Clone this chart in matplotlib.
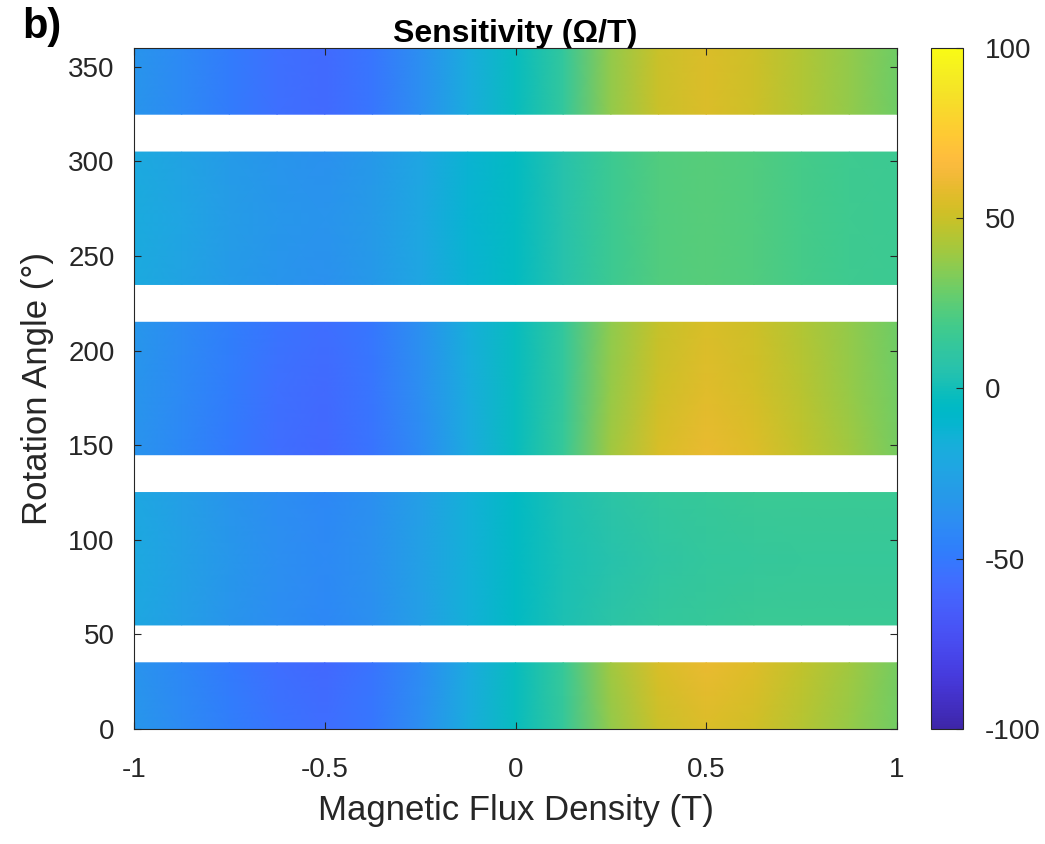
import numpy as np
import matplotlib
matplotlib.use("Agg")
import matplotlib.pyplot as plt
from matplotlib.colors import LinearSegmentedColormap

plt.rcParams["font.family"] = ["Liberation Sans", "DejaVu Sans"]
plt.rcParams["axes.unicode_minus"] = False

# MATLAB "parula" colormap (64 entries, smoothed to 256)
PARULA = [
    [0.2422, 0.1504, 0.6603], [0.2504, 0.1650, 0.7076], [0.2578, 0.1818, 0.7511],
    [0.2647, 0.1978, 0.7952], [0.2706, 0.2147, 0.8364], [0.2751, 0.2342, 0.8710],
    [0.2783, 0.2559, 0.8991], [0.2803, 0.2782, 0.9221], [0.2813, 0.3006, 0.9414],
    [0.2810, 0.3228, 0.9579], [0.2795, 0.3447, 0.9717], [0.2760, 0.3667, 0.9829],
    [0.2699, 0.3892, 0.9906], [0.2602, 0.4123, 0.9952], [0.2440, 0.4358, 0.9988],
    [0.2206, 0.4603, 0.9973], [0.1963, 0.4847, 0.9892], [0.1834, 0.5074, 0.9798],
    [0.1786, 0.5289, 0.9682], [0.1764, 0.5499, 0.9520], [0.1687, 0.5703, 0.9359],
    [0.1540, 0.5902, 0.9218], [0.1460, 0.6091, 0.9079], [0.1380, 0.6276, 0.8973],
    [0.1248, 0.6459, 0.8883], [0.1113, 0.6635, 0.8763], [0.0952, 0.6798, 0.8598],
    [0.0689, 0.6948, 0.8394], [0.0297, 0.7082, 0.8163], [0.0036, 0.7203, 0.7917],
    [0.0067, 0.7312, 0.7660], [0.0433, 0.7411, 0.7394], [0.0964, 0.7500, 0.7120],
    [0.1408, 0.7584, 0.6842], [0.1717, 0.7670, 0.6554], [0.1938, 0.7758, 0.6251],
    [0.2161, 0.7843, 0.5923], [0.2470, 0.7918, 0.5567], [0.2906, 0.7973, 0.5188],
    [0.3406, 0.8008, 0.4789], [0.3909, 0.8029, 0.4354], [0.4456, 0.8024, 0.3909],
    [0.5044, 0.7993, 0.3480], [0.5616, 0.7942, 0.3045], [0.6174, 0.7876, 0.2612],
    [0.6720, 0.7793, 0.2227], [0.7242, 0.7698, 0.1910], [0.7738, 0.7598, 0.1646],
    [0.8203, 0.7498, 0.1535], [0.8634, 0.7406, 0.1596], [0.9035, 0.7330, 0.1774],
    [0.9393, 0.7288, 0.2100], [0.9728, 0.7298, 0.2394], [0.9956, 0.7434, 0.2371],
    [0.9970, 0.7659, 0.2199], [0.9952, 0.7893, 0.2028], [0.9892, 0.8136, 0.1885],
    [0.9786, 0.8386, 0.1766], [0.9676, 0.8639, 0.1643], [0.9610, 0.8890, 0.1537],
    [0.9597, 0.9135, 0.1423], [0.9628, 0.9373, 0.1265], [0.9691, 0.9606, 0.1064],
    [0.9769, 0.9839, 0.0805],
]
parula = LinearSegmentedColormap.from_list("parula", PARULA, N=256)

# Magnetic flux density samples (T)
flux = [-1.0, -0.875, -0.75, -0.625, -0.5, -0.375, -0.25, -0.125, 0.0,
        0.125, 0.25, 0.375, 0.5, 0.625, 0.75, 0.875, 1.0]

# Sensitivity (Ohm/T) at each measured rotation angle
s_000 = [-33, -40, -47, -53, -56, -51, -38, -18, -3, 13, 37, 50, 55, 52, 45, 38, 30]
s_035 = [-35, -42, -50, -56, -59, -53, -40, -20, -3, 14, 40, 54, 60, 56, 48, 40, 31]
s_055 = [-22, -28, -34, -39, -42, -37, -28, -15, -5, 3, 8, 12, 14, 15, 15, 15, 15]
s_090 = [-21, -27, -33, -38, -41, -36, -27, -15, -5, 2, 6, 10, 12, 13, 14, 14, 14]
s_125 = [-22, -28, -34, -39, -42, -37, -28, -15, -5, 3, 8, 12, 14, 15, 15, 15, 15]
s_145 = [-35, -42, -50, -56, -59, -53, -40, -20, -3, 14, 40, 54, 60, 56, 48, 40, 31]
s_180 = [-34, -41, -48, -55, -58, -52, -38, -18, -3, 12, 38, 51, 57, 53, 46, 38, 30]
s_215 = [-33, -40, -47, -53, -56, -51, -37, -17, -3, 12, 36, 49, 54, 51, 44, 37, 29]
s_235 = [-20, -25, -30, -34, -36, -32, -23, -12, -4, 6, 16, 22, 24, 22, 19, 17, 16]
s_270 = [-19, -24, -29, -33, -35, -31, -22, -11, -4, 6, 16, 22, 24, 22, 19, 17, 16]
s_305 = [-20, -25, -30, -34, -36, -32, -23, -12, -4, 6, 16, 22, 24, 22, 19, 17, 16]
s_325 = [-34, -41, -49, -55, -58, -52, -38, -18, -3, 12, 37, 50, 55, 51, 44, 37, 29]
s_360 = [-34, -41, -49, -55, -58, -52, -38, -18, -3, 12, 37, 50, 55, 51, 44, 37, 29]

# Contiguous measured angle ranges (degrees); the gaps between them were not measured
bands = [
    ([0, 35], [s_000, s_035]),
    ([55, 90, 125], [s_055, s_090, s_125]),
    ([145, 180, 215], [s_145, s_180, s_215]),
    ([235, 270, 305], [s_235, s_270, s_305]),
    ([325, 360], [s_325, s_360]),
]

W, H = 1045, 844
fig = plt.figure(figsize=(W / 100, H / 100), dpi=100)
ax = fig.add_axes([134 / W, 1 - 729 / H, 763 / W, 681 / H])
cax = fig.add_axes([931 / W, 1 - 729 / H, 32 / W, 681 / H])

mesh = None
for ang, rows in bands:
    X, Y = np.meshgrid(flux, ang)
    mesh = ax.pcolormesh(X, Y, np.array(rows, dtype=float), cmap=parula,
                         vmin=-100, vmax=100, shading="gouraud")

ax.set_xlim(-1, 1)
ax.set_ylim(0, 360)
ax.set_xticks([-1, -0.5, 0, 0.5, 1])
ax.set_xticklabels(["-1", "-0.5", "0", "0.5", "1"])
ax.set_yticks([0, 50, 100, 150, 200, 250, 300, 350])

txt = "#262626"
ax.tick_params(direction="in", top=True, right=True, length=5, width=0.8,
               labelsize=20, colors=txt)
ax.tick_params(axis="x", pad=20)
ax.tick_params(axis="y", pad=14)
for sp in ax.spines.values():
    sp.set_color(txt)
    sp.set_linewidth(0.8)
    sp.set_zorder(5)

ax.set_xlabel("Magnetic Flux Density (T)", fontsize=25, color=txt, labelpad=8)
ax.set_ylabel("Rotation Angle (\u00b0)", fontsize=25, color=txt, labelpad=10)
ax.set_title("Sensitivity (\u03a9/T)", fontsize=23, fontweight="bold", color="black", pad=4)

cb = fig.colorbar(mesh, cax=cax, ticks=[-100, -50, 0, 50, 100])
cb.ax.tick_params(direction="in", length=5, width=0.8, labelsize=20, colors=txt, pad=16)
cb.outline.set_edgecolor(txt)
cb.outline.set_linewidth(0.8)

fig.text(22 / W, 1 - 27 / H, "b)", fontsize=30, fontweight="bold", color="black",
         va="center", ha="left")

fig.savefig("out.png", dpi=100)
